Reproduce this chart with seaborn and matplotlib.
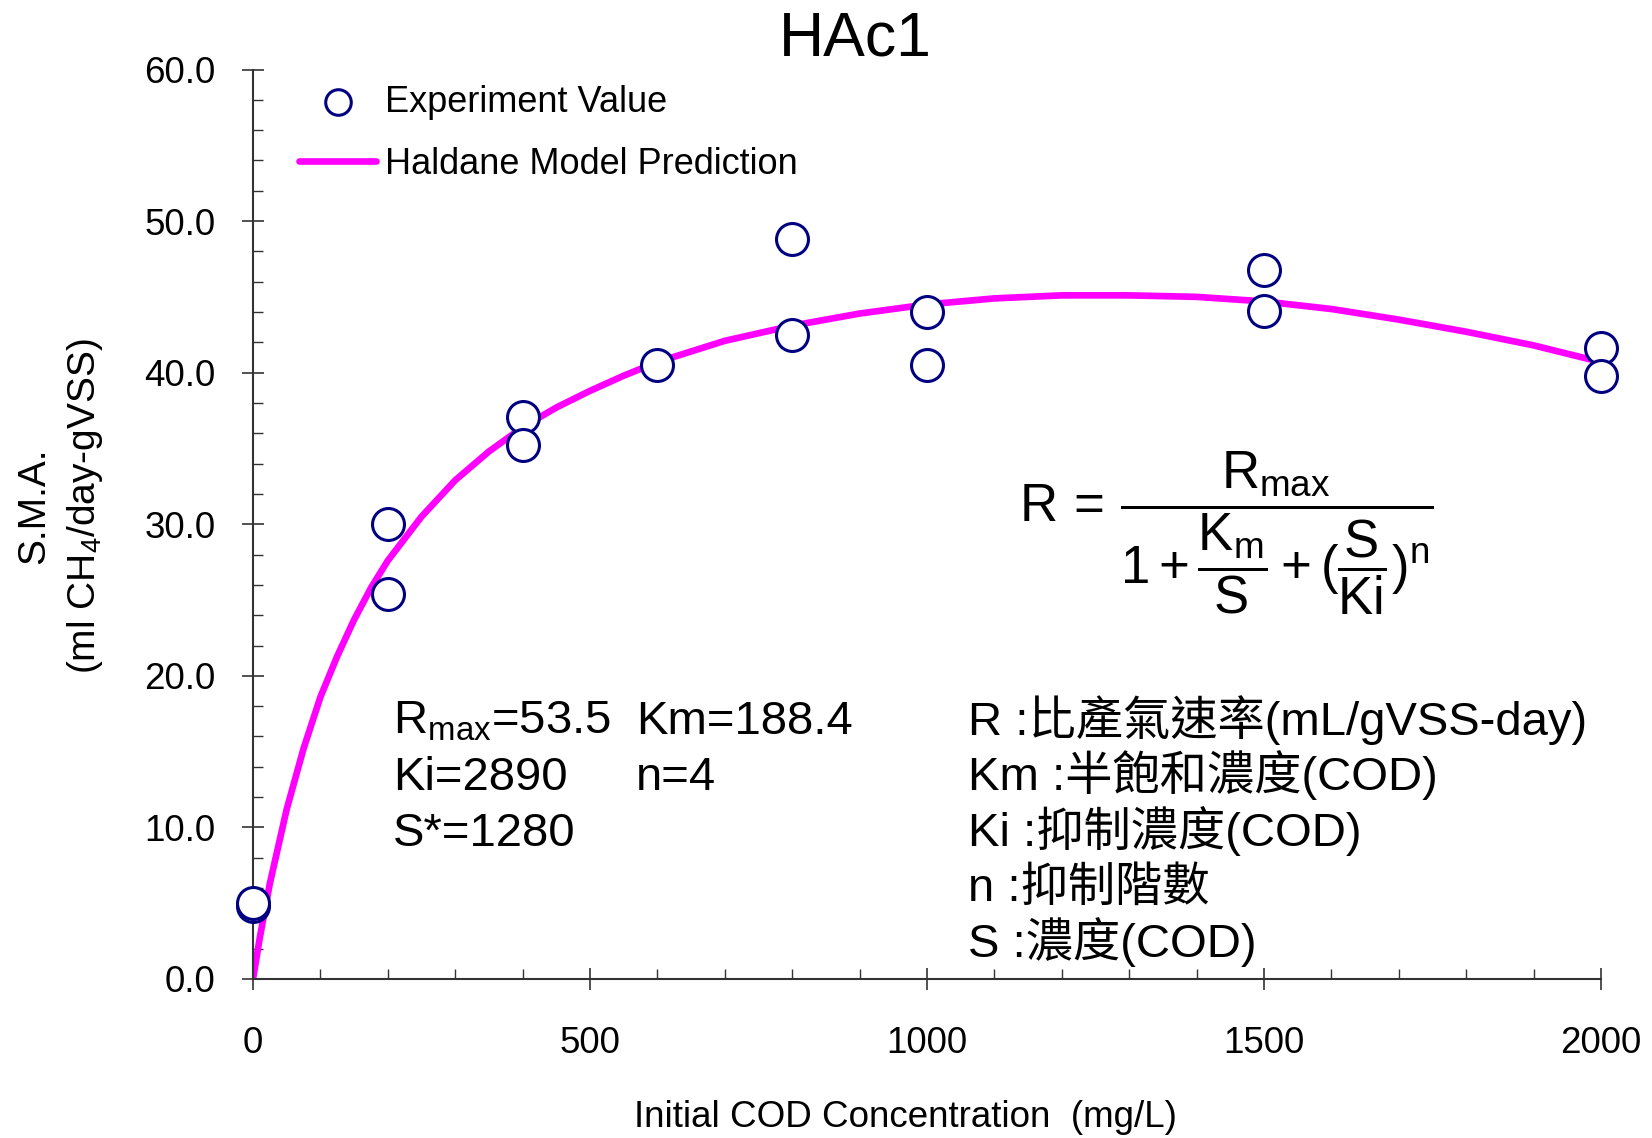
import numpy as np
import pandas as pd
import matplotlib
matplotlib.use("Agg")
import matplotlib.pyplot as plt
import seaborn as sns
from matplotlib.ticker import MultipleLocator, FormatStrFormatter

# Measured specific methanogenic activity (duplicate runs)
cod_exp = [0, 0, 200, 200, 400, 400, 600, 800, 800, 1000, 1000, 1500, 1500, 2000, 2000]
sma_exp = [4.8, 5.0, 30.0, 25.4, 37.1, 35.2, 40.5, 48.8, 42.5, 44.0, 40.5, 46.8, 44.1, 41.6, 39.8]

# Haldane model prediction curve
cod_fit = [0, 10, 25, 50, 75, 100, 125, 150, 175, 200, 250, 300, 350, 400, 450, 500, 550,
           600, 650, 700, 800, 900, 1000, 1100, 1200, 1300, 1400, 1500, 1600, 1700, 1800,
           1900, 2000]
sma_fit = [0.0, 2.7, 6.3, 11.2, 15.2, 18.6, 21.3, 23.7, 25.8, 27.6, 30.5, 32.9, 34.8, 36.4,
           37.7, 38.8, 39.8, 40.7, 41.4, 42.1, 43.1, 43.9, 44.5, 44.9, 45.1, 45.1, 45.0,
           44.7, 44.2, 43.5, 42.7, 41.8, 40.7]

x_ticks = [0, 500, 1000, 1500, 2000]
y_ticks = [0, 10, 20, 30, 40, 50, 60]

param_lines = [("R$_{\\mathrm{max}}$=53.5", "Km=188.4"), ("Ki=2890", "n=4"), ("S*=1280", "")]
symbol_lines = ["R :比產氣速率(mL/gVSS-day)", "Km :半飽和濃度(COD)", "Ki :抑制濃度(COD)",
                "n :抑制階數", "S :濃度(COD)"]

sns.set_theme(style="ticks")
plt.rcParams["font.family"] = ["Liberation Sans", "Noto Sans CJK TC", "DejaVu Sans"]
plt.rcParams.update({
    "mathtext.fontset": "custom",
    "mathtext.rm": "Liberation Sans",
    "mathtext.it": "Liberation Sans",
    "mathtext.bf": "Liberation Sans:bold",
    "mathtext.sf": "Liberation Sans",
    "text.color": "black",
    "axes.labelcolor": "black",
    "xtick.color": "#333333",
    "ytick.color": "#333333",
    "xtick.labelcolor": "black",
    "ytick.labelcolor": "black",
})

W, H = 1652, 1138
fig = plt.figure(figsize=(W / 100, H / 100), dpi=100)
ax = fig.add_axes([253 / W, 1 - 979 / H, 1348 / W, 909.5 / H])

exp_df = pd.DataFrame({"cod": cod_exp, "sma": sma_exp})
fit_df = pd.DataFrame({"cod": cod_fit, "sma": sma_fit})

sns.lineplot(data=fit_df, x="cod", y="sma", color="#FF00FF", linewidth=4.8, ax=ax,
             label="Haldane Model Prediction", zorder=2, solid_capstyle="round")
sns.scatterplot(data=exp_df, x="cod", y="sma", marker="o", s=529, color="white",
                edgecolor="#000080", linewidth=2.2, ax=ax, label="Experiment Value",
                zorder=3, clip_on=False)

ax.set_xlim(0, 2000)
ax.set_ylim(0, 60)
ax.set_xticks(x_ticks)
ax.set_yticks(y_ticks)
ax.xaxis.set_minor_locator(MultipleLocator(100))
ax.yaxis.set_minor_locator(MultipleLocator(2))
ax.yaxis.set_major_formatter(FormatStrFormatter("%.1f"))
ax.tick_params(which="major", direction="inout", length=16, width=1.2, labelsize=26.5)
ax.tick_params(axis="y", which="major", pad=19)
ax.tick_params(axis="x", which="major", pad=26)
ax.tick_params(which="minor", direction="in", length=7, width=1.0)
sns.despine(ax=ax)
for side in ("left", "bottom"):
    ax.spines[side].set_color("#333333")
    ax.spines[side].set_linewidth(1.5)

ax.set_xlabel("Initial COD Concentration  (mg/L)", fontsize=26.5)
ax.xaxis.set_label_coords(0.484, -0.133)
ax.set_ylabel("S.M.A.\n(ml CH$_4$/day-gVSS)", fontsize=28, linespacing=1.4)
ax.yaxis.set_label_coords(-0.11, 0.52)
ax.set_title("HAc1", fontsize=45, x=0.447, pad=10)

handles, labels = ax.get_legend_handles_labels()
order = [labels.index("Experiment Value"), labels.index("Haldane Model Prediction")]
ax.legend([handles[i] for i in order], [labels[i] for i in order], loc="upper left",
          bbox_to_anchor=(0.034, 0.983), frameon=False, fontsize=26, handlelength=2.15,
          handletextpad=0.25, labelspacing=0.75, borderaxespad=0, borderpad=0,
          markerscale=0.8)

# Haldane equation
ax.text(0.722, 0.49,
        r"$R\,=\,\dfrac{R_{\mathrm{max}}}{1+\dfrac{K_{\mathrm{m}}}{S}+(\dfrac{S}{Ki})^{n}}$",
        transform=ax.transAxes, ha="center", va="center", fontsize=38)

# Fitted parameters
base_y = [0.2694, 0.2078, 0.1462]
for (left, right), yy in zip(param_lines, base_y):
    ax.text(0.1039, yy, left, transform=ax.transAxes, ha="left", va="baseline", fontsize=34)
    if right:
        ax.text(0.2841, yy, right, transform=ax.transAxes, ha="left", va="baseline", fontsize=34)

# Symbol definitions
sym_y = [0.2683, 0.2078, 0.1462, 0.0858, 0.0242]
for txt, yy in zip(symbol_lines, sym_y):
    ax.text(0.5304, yy, txt, transform=ax.transAxes, ha="left", va="baseline", fontsize=34)

fig.savefig("out.png", dpi=100, facecolor="white")
